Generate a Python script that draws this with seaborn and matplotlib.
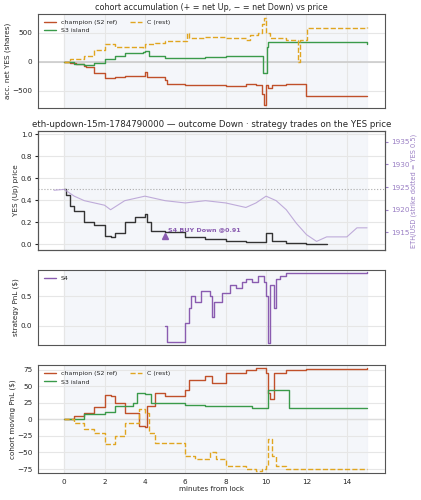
import matplotlib
matplotlib.use("Agg")
import matplotlib.pyplot as plt
import seaborn as sns
import pandas as pd

# --- data ---
acc_champ_t = [0, 0.3, 0.6, 1, 1.1, 1.5, 2, 2.5, 3, 3.9, 4, 4.1, 5, 5.1, 6, 7, 8, 9, 9.5, 9.8, 9.9, 10.0, 10.1, 10.3, 11, 11.9, 12, 15]
acc_champ_v = [0, -20, -50, -70, -100, -200, -280, -260, -240, -240, -180, -260, -320, -390, -400, -410, -420, -390, -400, -560, -750, -400, -460, -400, -380, -380, -590, -590]
acc_s3_t = [0, 0.5, 1, 1.5, 2, 2.5, 3, 3.9, 4, 4.2, 5, 6, 7, 8, 9.8, 9.85, 10, 10.05, 10.1, 15]
acc_s3_v = [0, -50, -60, -20, 50, 100, 140, 160, 190, 100, 60, 70, 80, 90, 100, -190, -190, 250, 330, 310]
acc_c_t = [0, 0.3, 1, 1.5, 2, 2.5, 3.9, 4, 4.5, 5, 6, 6.1, 6.2, 7, 8, 9, 9.2, 9.6, 9.8, 9.9, 10, 10.2, 11, 11.5, 11.6, 11.7, 12, 12.05, 15]
acc_c_v = [0, 50, 100, 200, 300, 250, 240, 300, 320, 350, 360, 500, 400, 420, 410, 380, 450, 500, 650, 750, 500, 400, 380, 380, 0, 370, 380, 580, 590]

yes_t = [0, 0.1, 0.3, 0.5, 1, 1.5, 2, 2.3, 2.5, 3, 3.5, 4, 4.1, 4.3, 5, 6, 7, 8, 9, 9.8, 10, 10.3, 11, 12, 13]
yes_v = [0.5, 0.45, 0.35, 0.3, 0.2, 0.18, 0.08, 0.07, 0.1, 0.2, 0.25, 0.28, 0.2, 0.12, 0.11, 0.07, 0.05, 0.03, 0.02, 0.02, 0.1, 0.03, 0.01, 0.005, 0.005]
eth_t = [-0.5, 0, 0.5, 1, 2, 2.3, 3, 4, 5, 6, 7, 8, 9, 9.5, 10, 10.5, 11, 11.5, 12, 12.5, 13, 14, 14.5, 15]
eth_v = [1924.3, 1924.5, 1923, 1922, 1921, 1920, 1922, 1923, 1922, 1921.5, 1922, 1921.5, 1920.5, 1921.5, 1923, 1922, 1920, 1917, 1914.5, 1913, 1914, 1914, 1916, 1916]
strike = 0.5
trade_t, trade_p = 5, 0.08
trade_label = "S4 BUY Down @0.91"

s4_t = [5, 5.1, 5.9, 6, 6.2, 6.3, 6.5, 6.8, 7.2, 7.3, 7.4, 7.8, 8.2, 8.5, 8.8, 9, 9.3, 9.6, 9.9, 10, 10.1, 10.2, 10.4, 10.5, 10.7, 11, 15]
s4_v = [0, -0.28, -0.28, 0.05, 0.3, 0.5, 0.4, 0.6, 0.5, 0.15, 0.4, 0.55, 0.7, 0.65, 0.75, 0.8, 0.75, 0.85, 0.75, 0.5, -0.3, 0.7, 0.3, 0.8, 0.85, 0.9, 0.92]

pnl_champ_t = [0, 0.5, 1, 1.5, 2, 2.3, 2.5, 3, 3.5, 3.7, 4, 4.1, 4.5, 5, 6, 6.2, 7, 7.3, 8, 9, 9.5, 10, 10.1, 10.2, 10.4, 11, 12, 15]
pnl_champ_v = [0, 5, 10, 18, 37, 35, 25, 10, 10, -10, -12, 20, 40, 35, 45, 60, 65, 55, 70, 75, 78, 70, 40, 30, 70, 75, 76, 77]
pnl_s3_t = [0, 1, 2, 2.5, 3.4, 3.6, 4, 4.3, 5, 6, 7, 9.2, 9.3, 10, 10.1, 11.1, 11.15, 15]
pnl_s3_v = [0, 8, 11, 20, 25, 40, 38, 25, 25, 22, 20, 20, 17, 17, 45, 45, 17, 17]
pnl_c_t = [0, 0.5, 1, 1.5, 2, 2.5, 3, 3.5, 3.7, 4, 4.2, 4.5, 5, 5.5, 6, 6.5, 7.2, 7.5, 8, 9, 9.5, 9.8, 10.0, 10.1, 10.3, 10.5, 11, 15]
pnl_c_v = [0, -5, -15, -20, -37, -25, -5, -5, 15, 10, -20, -35, -35, -35, -55, -60, -50, -60, -70, -75, -78, -75, -70, -30, -55, -70, -75, -75]

C_CHAMP, C_S3, C_C, C_S4 = "#c0502a", "#3a9a4a", "#e0a520", "#8a5cb0"

sns.set_style("whitegrid", {"axes.edgecolor": "#555555", "grid.color": "#e6e6e6"})
plt.rcParams["font.family"] = ["DejaVu Sans"]
plt.rcParams["font.size"] = 5.5

FS = 5.2
fig = plt.figure(figsize=(4.21, 5.0), dpi=100)
L, W = 0.09, 0.825
ax1 = fig.add_axes([L, 0.784, W, 0.188])
ax2 = fig.add_axes([L, 0.50, W, 0.238], sharex=ax1)
ax3 = fig.add_axes([L, 0.31, W, 0.15], sharex=ax1)
ax4 = fig.add_axes([L, 0.054, W, 0.216], sharex=ax1)


def step(ax, t, v, color, label=None, ls="-"):
    df = pd.DataFrame({"t": t, "v": v})
    sns.lineplot(data=df, x="t", y="v", ax=ax, color=color, label=label,
                 drawstyle="steps-post", linestyle=ls, linewidth=1.0, estimator=None, sort=False)


for ax in (ax1, ax2, ax3, ax4):
    ax.axvspan(0, 15, color="#eef1f8", alpha=0.6, zorder=0)
    ax.set_xlabel("")
    ax.tick_params(length=2.5, pad=1.5, labelsize=FS)

step(ax1, acc_champ_t, acc_champ_v, C_CHAMP, "champion (S2 ref)")
step(ax1, acc_s3_t, acc_s3_v, C_S3, "S3 island")
step(ax1, acc_c_t, acc_c_v, C_C, "C (rest)", "--")
ax1.axhline(0, color="#cccccc", lw=1.2, zorder=1)
ax1.set_ylabel("acc. net YES (shares)", fontsize=FS, labelpad=1)
ax1.set_title("cohort accumulation (+ = net Up, \u2212 = net Down) vs price", fontsize=5.8, pad=3)
ax1.set_ylim(-800, 820)
ax1.set_yticks([-500, 0, 500])
ax1.legend(loc="upper left", ncol=2, fontsize=4.5, frameon=False)

step(ax2, yes_t, yes_v, "#333333")
ax2.axhline(strike, color="#aaaaaa", lw=0.8, ls=":")
ax2.set_ylim(-0.05, 1.03)
ax2.set_ylabel("YES (Up) price", fontsize=FS, labelpad=1)
ax2.set_title("eth-updown-15m-1784790000 \u2014 outcome Down \u00b7 strategy trades on the YES price", fontsize=6.2, pad=3)
ax2.plot([trade_t], [trade_p], marker="^", color=C_S4, markersize=5, ls="none")
ax2.annotate(trade_label, (trade_t, trade_p), xytext=(2, 3), textcoords="offset points",
             color=C_S4, fontsize=4.6, fontweight="bold")
ax2b = ax2.twinx()
sns.lineplot(x=eth_t, y=eth_v, ax=ax2b, color="#b9a3d6", linewidth=0.8, alpha=0.9)
ax2b.set_ylim(1911.1, 1937.4)
ax2b.grid(False)
ax2b.tick_params(colors="#9a7fc4", labelsize=FS, length=2.5, pad=1.5)
ax2b.set_ylabel("ETH/USD (strike dotted = YES 0.5)", color="#9a7fc4", fontsize=4.8, labelpad=1)

step(ax3, s4_t, s4_v, C_S4, "S4")
ax3.set_ylim(-0.33, 0.95)
ax3.set_yticks([0.0, 0.5])
ax3.set_ylabel("strategy PnL ($)", fontsize=FS, labelpad=1)
ax3.legend(loc="upper left", fontsize=4.5, frameon=False)

step(ax4, pnl_champ_t, pnl_champ_v, C_CHAMP, "champion (S2 ref)")
step(ax4, pnl_s3_t, pnl_s3_v, C_S3, "S3 island")
step(ax4, pnl_c_t, pnl_c_v, C_C, "C (rest)", "--")
ax4.axhline(0, color="#dddddd", lw=1.0, zorder=1)
ax4.set_ylim(-81, 82)
ax4.set_yticks([-75, -50, -25, 0, 25, 50, 75])
ax4.set_ylabel("cohort moving PnL ($)", fontsize=FS, labelpad=1)
ax4.set_xlabel("minutes from lock", fontsize=FS, labelpad=1)
ax4.legend(loc="upper left", ncol=2, fontsize=4.5, frameon=False)

ax1.set_xlim(-1.3, 15.9)
ax1.set_xticks([0, 2, 4, 6, 8, 10, 12, 14])
for ax in (ax1, ax2, ax3):
    plt.setp(ax.get_xticklabels(), visible=False)
    ax.set_xlabel("")

fig.savefig("out.png", dpi=100)
